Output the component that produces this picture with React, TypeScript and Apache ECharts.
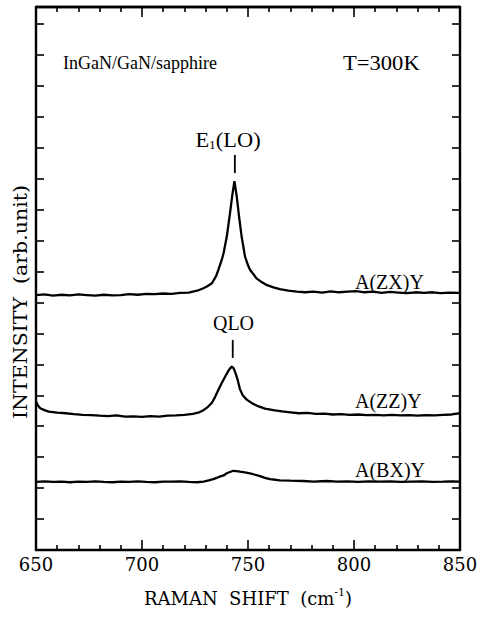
import React, { useEffect, useRef } from "react";
import * as echarts from "echarts";

// Raman shift (cm^-1), intensity (arb. units, offset per spectrum)
const specZX: [number, number][] = [
  [650, 8.24], [654, 8.26], [658, 8.22], [662, 8.25], [666, 8.23], [670, 8.26], [674, 8.24], [678, 8.22],
  [682, 8.25], [686, 8.23], [690, 8.24], [694, 8.27], [698, 8.25], [702, 8.28], [706, 8.27], [710, 8.29],
  [714, 8.28], [718, 8.31], [722, 8.32], [726, 8.38], [729, 8.46], [731, 8.53], [733, 8.62], [735, 8.86],
  [736, 9.05], [737.5, 9.35], [738.5, 9.6], [740, 10.13], [741.5, 10.88], [742.6, 11.47], [743.6, 11.92],
  [744.7, 11.42], [745.8, 10.77], [747, 10.13], [748.6, 9.48], [750, 9.2], [751, 9.05], [752.5, 8.92],
  [754, 8.78], [756, 8.68], [759, 8.56], [762, 8.49], [765, 8.43], [769, 8.38], [773, 8.35], [777, 8.33],
  [781, 8.35], [785, 8.32], [789, 8.36], [793, 8.33], [797, 8.35], [801, 8.37], [805, 8.33], [809, 8.35],
  [813, 8.31], [817, 8.34], [821, 8.32], [825, 8.3], [829, 8.33], [833, 8.31], [837, 8.33], [841, 8.3],
  [845, 8.32], [850, 8.31],
];

const specZZ: [number, number][] = [
  [650, 4.8], [651, 4.66], [652, 4.58], [654, 4.52], [656, 4.47], [660, 4.44], [664, 4.42], [668, 4.39],
  [672, 4.37], [676, 4.36], [680, 4.34], [684, 4.33], [688, 4.35], [692, 4.31], [696, 4.32], [700, 4.3],
  [704, 4.33], [708, 4.31], [712, 4.34], [716, 4.35], [720, 4.37], [724, 4.4], [727, 4.45], [729, 4.52],
  [731, 4.62], [733, 4.76], [734.5, 4.95], [736, 5.17], [737.5, 5.38], [739.2, 5.6], [741, 5.82],
  [742.3, 5.93], [743.2, 5.88], [744.2, 5.7], [745.2, 5.48], [746.2, 5.2], [747.5, 5.0], [749.4, 4.86],
  [752, 4.74], [755, 4.64], [758, 4.57], [762, 4.52], [766, 4.48], [770, 4.45], [774, 4.42], [778, 4.43],
  [782, 4.4], [786, 4.41], [790, 4.38], [794, 4.39], [798, 4.37], [802, 4.38], [806, 4.36], [810, 4.37],
  [814, 4.35], [818, 4.37], [822, 4.35], [826, 4.36], [830, 4.34], [834, 4.36], [838, 4.35], [842, 4.37],
  [846, 4.38], [850, 4.42],
];

const specBX: [number, number][] = [
  [650, 2.2], [654, 2.22], [658, 2.2], [662, 2.21], [666, 2.19], [670, 2.21], [674, 2.2], [678, 2.22],
  [682, 2.2], [686, 2.19], [690, 2.21], [694, 2.2], [698, 2.22], [702, 2.2], [706, 2.19], [710, 2.21],
  [714, 2.21], [718, 2.22], [722, 2.2], [726, 2.19], [729, 2.21], [731.5, 2.25], [733.6, 2.29],
  [735.5, 2.34], [737, 2.38], [738.5, 2.41], [740, 2.48], [741.5, 2.52], [743.1, 2.56], [744.5, 2.55],
  [746.2, 2.53], [748.5, 2.51], [750.9, 2.48], [753, 2.44], [755.7, 2.39], [758, 2.33], [760.4, 2.29],
  [763, 2.27], [765, 2.25], [770, 2.24], [776, 2.23], [781, 2.21], [787, 2.23], [792, 2.21], [797, 2.22],
  [802, 2.2], [807, 2.22], [812, 2.21], [817, 2.22], [822, 2.2], [827, 2.21], [832, 2.22], [837, 2.2],
  [842, 2.21], [846, 2.22], [850, 2.21],
];

// peak marker ticks: [x, y]
const markE1: [number, number][] = [[743.8, 12.18], [743.8, 12.77]];
const markQLO: [number, number][] = [[742.8, 6.21], [742.8, 6.79]];

const xTicks = { min: 650, max: 850, interval: 50 };
const yRange = { min: 0, max: 17.55, interval: 1 };

const SERIF = "Liberation Serif";
const WIDE = "DejaVu Serif";

export default function App() {
  const ref = useRef<HTMLDivElement>(null);
  useEffect(() => {
    document.body.style.margin = "0";
    const chart = echarts.init(ref.current!, undefined, { renderer: "svg" });
    const xAxisBase = (position: "top" | "bottom", labels: boolean) => ({
      type: "value",
      position,
      min: xTicks.min,
      max: xTicks.max,
      interval: xTicks.interval,
      axisLine: { show: true, onZero: false, lineStyle: { color: "#000", width: 2.4 } },
      axisTick: { show: true, inside: true, length: 10, lineStyle: { color: "#000", width: 1.6 } },
      minorTick: { show: true, splitNumber: 5, length: 5, lineStyle: { color: "#000", width: 1.6 } },
      splitLine: { show: false },
      axisLabel: labels
        ? { show: true, color: "#000", fontFamily: WIDE, fontSize: 18, margin: 5 }
        : { show: false },
    });
    const yAxisBase = (position: "left" | "right") => ({
      type: "value",
      position,
      min: yRange.min,
      max: yRange.max,
      interval: yRange.interval,
      axisLine: { show: true, onZero: false, lineStyle: { color: "#000", width: 2.4 } },
      axisTick: { show: true, inside: true, length: 8, lineStyle: { color: "#000", width: 1.6 } },
      axisLabel: { show: false },
      splitLine: { show: false },
    });
    const lineSeries = (data: [number, number][], w = 2.3) => ({
      type: "line" as const,
      data,
      symbol: "none",
      lineStyle: { color: "#000", width: w },
      silent: true,
    });
    const txt = (text: string, x: number, y: number, size: number, family: string, align: string, extra: any = {}) => ({
      type: "text",
      x,
      y,
      ...extra,
      style: { text, fontSize: size, fontFamily: family, fill: "#000", verticalAlign: "middle", align },
    });
    chart.setOption({
      animation: false,
      backgroundColor: "#fff",
      grid: { left: 36, right: 22, top: 7, bottom: 70 },
      xAxis: [xAxisBase("bottom", true), xAxisBase("top", false)],
      yAxis: [yAxisBase("left"), yAxisBase("right")],
      series: [
        lineSeries(specZX),
        lineSeries(specZZ),
        lineSeries(specBX),
        lineSeries(markE1, 1.8),
        lineSeries(markQLO, 1.8),
      ],
      graphic: [
        { type: "line", shape: { x1: 36, y1: 7, x2: 460, y2: 7 }, style: { stroke: "#000", lineWidth: 2.4 } },
        txt("InGaN/GaN/sapphire", 63, 63, 18, SERIF, "left"),
        txt("T=300K", 343, 63, 20, SERIF, "left", { scaleX: 1.13 }),
        {
          type: "text", x: 228, y: 140, scaleX: 1.12,
          style: {
            text: "{m|E}{s|1}{m|(LO)}",
            fill: "#000",
            align: "center",
            verticalAlign: "middle",
            rich: {
              m: { fontFamily: SERIF, fontSize: 20, lineHeight: 22, fill: "#000" },
              s: { fontFamily: SERIF, fontSize: 12, lineHeight: 12, verticalAlign: "bottom", fill: "#000" },
            },
          },
        },
        txt("QLO", 233.5, 323, 20, SERIF, "center"),
        txt("A(ZX)Y", 355, 282, 20, SERIF, "left"),
        txt("A(ZZ)Y", 355, 401, 20, SERIF, "left"),
        txt("A(BX)Y", 355, 470, 20, SERIF, "left"),
        {
          type: "text", x: 248, y: 598,
          style: {
            text: "{m|RAMAN  SHIFT  (cm}{s|-1}{m|)}",
            fill: "#000",
            align: "center",
            verticalAlign: "middle",
            rich: {
              m: { fontFamily: WIDE, fontSize: 18, lineHeight: 22, fill: "#000" },
              s: { fontFamily: WIDE, fontSize: 11, lineHeight: 11, verticalAlign: "top", fill: "#000" },
            },
          },
        },
        txt("INTENSITY  (arb.unit)", 21, 302, 19, WIDE, "center", { rotation: Math.PI / 2, scaleX: 1.08 }),
      ],
    });
    return () => chart.dispose();
  }, []);
  return <div ref={ref} style={{ position: "fixed", left: 0, top: 0, width: 482, height: 620 }} />;
}
